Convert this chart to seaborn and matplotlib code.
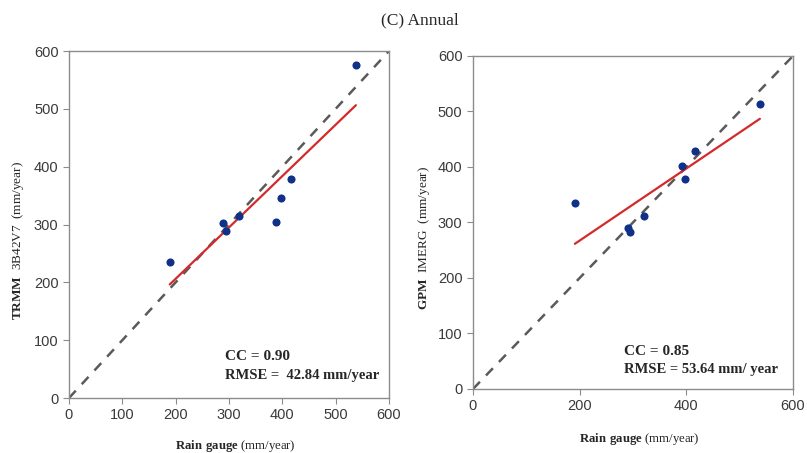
import seaborn as sns
import pandas as pd
import matplotlib.pyplot as plt

# gauge vs satellite annual rainfall (mm/year)
gauge_trmm = [189, 289, 295, 319, 389, 398, 416, 538]
trmm = [235, 302, 288, 315, 305, 345, 379, 575]
gauge_gpm = [191, 290, 294, 320, 391, 398, 416, 538]
gpm = [336, 290, 282, 312, 401, 379, 429, 514]

sns.set_style("white")
plt.rcParams["font.family"] = ["Liberation Sans", "DejaVu Sans"]
plt.rcParams["mathtext.fontset"] = "custom"
plt.rcParams["mathtext.rm"] = "Liberation Serif"
plt.rcParams["mathtext.bf"] = "Liberation Serif:bold"

df1 = pd.DataFrame({"gauge": gauge_trmm, "sat": trmm})
df2 = pd.DataFrame({"gauge": gauge_gpm, "sat": gpm})

fig = plt.figure(figsize=(8.07, 4.53), dpi=100)
ax1 = fig.add_axes([0.0855, 0.1214, 0.3965, 0.766])
ax2 = fig.add_axes([0.5861, 0.1413, 0.3965, 0.7351])

serif = "Liberation Serif"

def panel(ax, df, xstep, ylab, cc, rmse, tx, ty, lab_x, lab_y):
    ax.plot([0, 600], [0, 600], ls=(0, (4, 3.5)), color="#5a5a5a", lw=1.8, zorder=1)
    sns.regplot(x="gauge", y="sat", data=df, ax=ax, ci=None,
                scatter_kws={"s": 34, "color": "#10318a", "alpha": 1,
                             "zorder": 3, "linewidths": 0},
                line_kws={"color": "#d42a2a", "lw": 1.6, "zorder": 2})
    ax.set_xlim(0, 600)
    ax.set_ylim(0, 600)
    ax.set_xticks(range(0, 601, xstep))
    ax.set_yticks(range(0, 601, 100))
    for s in ax.spines.values():
        s.set_color("#8c8c8c")
        s.set_linewidth(1.0)
    ax.tick_params(axis="both", direction="out", length=4, width=0.8,
                   color="#8c8c8c", labelsize=10.5, labelcolor="#3a3a3a",
                   bottom=True, left=True)
    ax.set_xlabel(r"$\mathbf{Rain\ gauge}$ (mm/year)", fontsize=9.2,
                  fontfamily=serif)
    ax.set_ylabel(ylab, fontsize=9.5, fontfamily=serif)
    ax.xaxis.set_label_coords(0.52, lab_x)
    ax.yaxis.set_label_coords(lab_y, 0.455)
    ax.text(tx, ty, "CC = " + cc, fontsize=11, fontfamily=serif,
            fontweight="bold", va="center")
    ax.text(tx, ty - 32, "RMSE = " + rmse, fontsize=10.5, fontfamily=serif,
            fontweight="bold", va="center")

panel(ax1, df1, 100, r"$\mathbf{TRMM}$  3B42V7  (mm/year)", "0.90",
      " 42.84 mm/year", 292, 71, -0.115, -0.133)
panel(ax2, df2, 200, r"$\mathbf{GPM}$  IMERG  (mm/year)", "0.85",
      "53.64 mm/ year", 283, 68, -0.125, -0.128)

fig.text(0.52, 0.955, "(C) Annual", fontsize=12.5, fontfamily=serif,
         ha="center", va="center")

fig.savefig("out.png", dpi=100)
